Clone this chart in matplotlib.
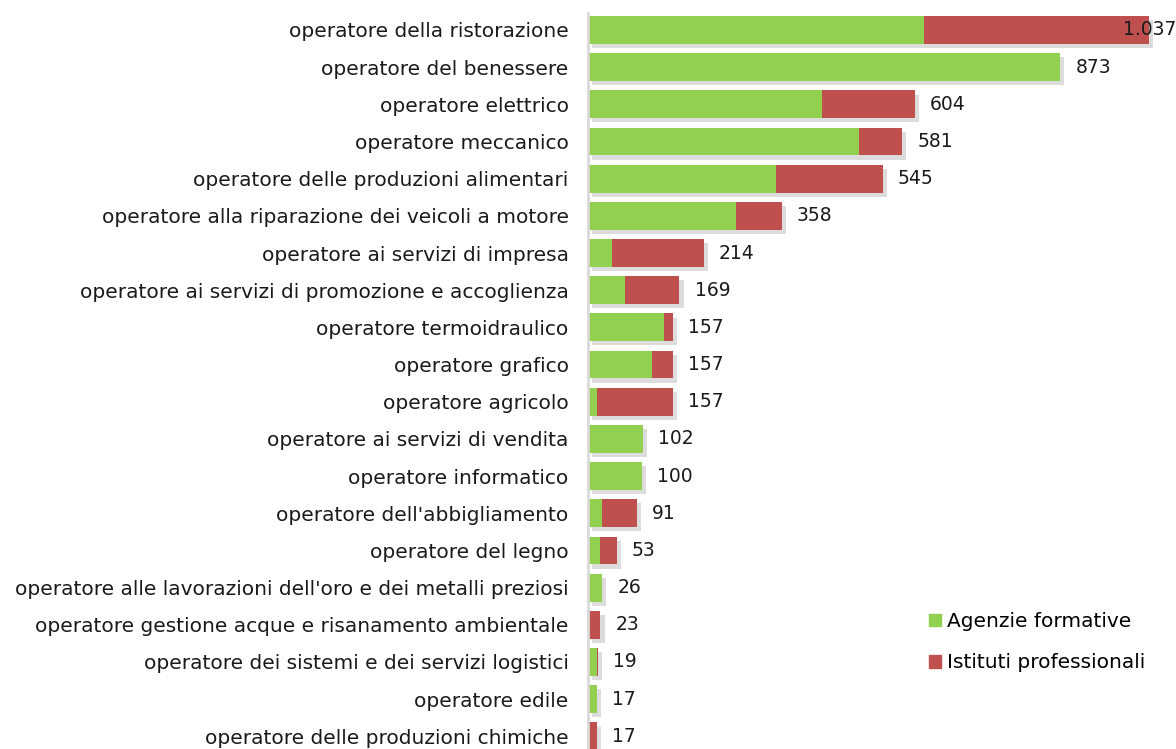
import matplotlib.pyplot as plt
import matplotlib.patheffects as pe
from matplotlib.patches import Patch
import numpy as np

plt.rcParams['font.family'] = ['DejaVu Sans']

categories = [
    "operatore della ristorazione",
    "operatore del benessere",
    "operatore elettrico",
    "operatore meccanico",
    "operatore delle produzioni alimentari",
    "operatore alla riparazione dei veicoli a motore",
    "operatore ai servizi di impresa",
    "operatore ai servizi di promozione e accoglienza",
    "operatore termoidraulico",
    "operatore grafico",
    "operatore agricolo",
    "operatore ai servizi di vendita",
    "operatore informatico",
    "operatore dell'abbigliamento",
    "operatore del legno",
    "operatore alle lavorazioni dell'oro e dei metalli preziosi",
    "operatore gestione acque e risanamento ambientale",
    "operatore dei sistemi e dei servizi logistici",
    "operatore edile",
    "operatore delle produzioni chimiche",
]
agenzie = [621, 873, 432, 501, 348, 273, 44, 68, 140, 118, 16, 102, 100, 25, 23, 26, 0, 17, 17, 0]
istituti = [416, 0, 172, 80, 197, 85, 170, 101, 17, 39, 141, 0, 0, 66, 30, 0, 23, 2, 0, 17]
totali = [1037, 873, 604, 581, 545, 358, 214, 169, 157, 157, 157, 102, 100, 91, 53, 26, 23, 19, 17, 17]
totali_labels = ["1.037", "873", "604", "581", "545", "358", "214", "169", "157", "157",
                 "157", "102", "100", "91", "53", "26", "23", "19", "17", "17"]

green = '#92D050'
red = '#C0504D'
txt = '#1a1a1a'

W, H = 1176, 749
fig = plt.figure(figsize=(W / 100, H / 100), dpi=100)
ax = fig.add_axes([588 / W, 0, 1 - 588 / W, (H - 13) / H])

y = np.arange(len(categories))
shadow = [pe.SimplePatchShadow(offset=(3, -3), shadow_rgbFace='#8c8c8c', alpha=0.3), pe.Normal()]

b1 = ax.barh(y, agenzie, height=0.75, color=green, zorder=2)
b2 = ax.barh(y, istituti, left=agenzie, height=0.75, color=red, zorder=2)
for a, b in zip(b1, b2):
    a.set_path_effects(shadow)
    b.set_path_effects(shadow)

xmax = 1087
ax.set_xlim(0, xmax)
ax.set_ylim(19.34, -0.455)

for i, (t, lab) in enumerate(zip(totali, totali_labels)):
    if t + 90 > xmax:
        ax.text(xmax, i, lab, ha='right', va='center', fontsize=13.5, color=txt, zorder=3)
    else:
        ax.text(t + 28, i, lab, ha='left', va='center', fontsize=13.5, color=txt, zorder=3)

ax.set_yticks(y)
ax.set_yticklabels(categories, fontsize=14.5, color=txt)
ax.tick_params(axis='y', length=0, pad=14)
ax.set_xticks([])

for s in ['top', 'right', 'bottom']:
    ax.spines[s].set_visible(False)
ax.spines['left'].set_color('#d9d9d9')
ax.spines['left'].set_linewidth(2)

handles = [Patch(color=green, label='Agenzie formative'),
           Patch(color=red, label='Istituti professionali')]
ax.legend(handles=handles, loc='upper left', bbox_to_anchor=(911 / W, 1 - 594 / H),
          bbox_transform=fig.transFigure, frameon=False, fontsize=14.5,
          handlelength=0.6, handleheight=0.6, handletextpad=0.3, labelspacing=1.1)

fig.savefig('out.png', dpi=100)
